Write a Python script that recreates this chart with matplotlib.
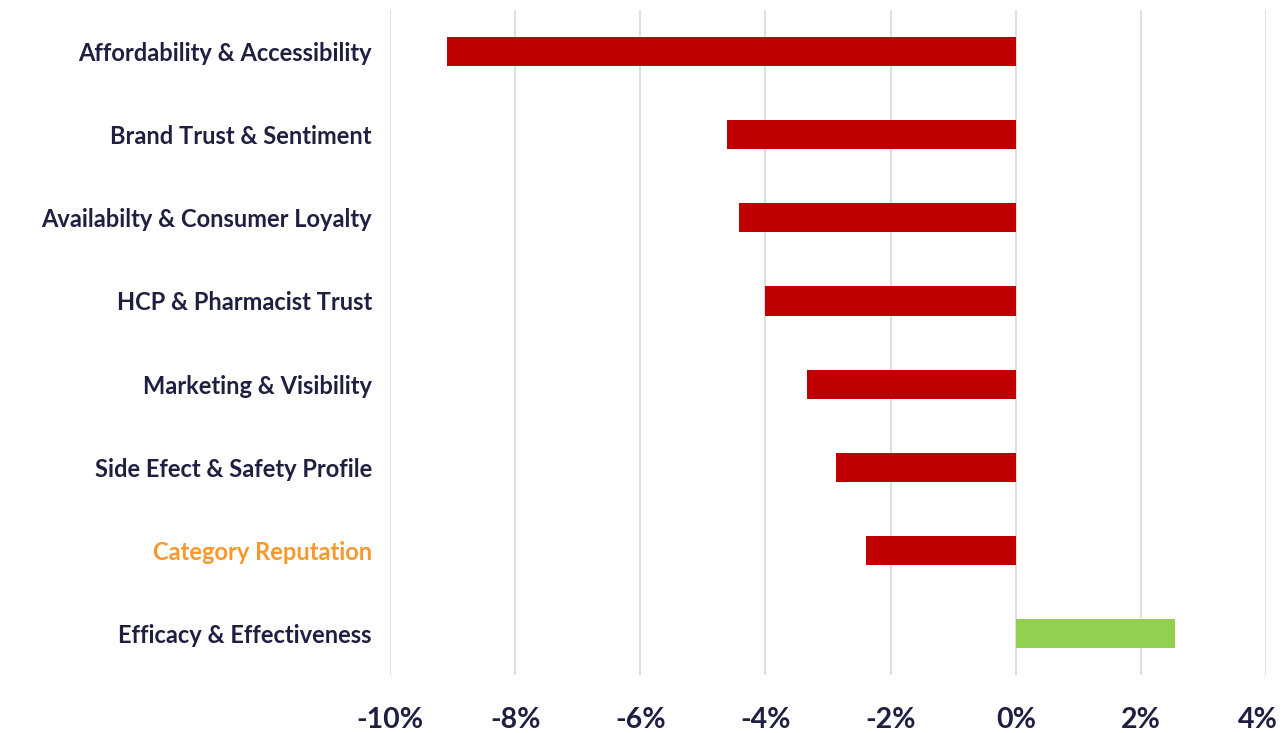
import matplotlib.pyplot as plt
import matplotlib.transforms as mtransforms
from matplotlib.ticker import FuncFormatter

categories = ["Affordability & Accessibility", "Brand Trust & Sentiment",
              "Availabilty & Consumer Loyalty", "HCP & Pharmacist Trust",
              "Marketing & Visibility", "Side Efect & Safety Profile",
              "Category Reputation", "Efficacy & Effectiveness"]
change = [-9.09, -4.62, -4.42, -4.00, -3.33, -2.87, -2.39, 2.55]
xticks = [-10, -8, -6, -4, -2, 0, 2, 4]

red = "#c00000"
green = "#92d050"
navy = "#1f2041"
orange = "#f7982e"

plt.rcParams['font.family'] = ['Lato', 'DejaVu Sans']

fig = plt.figure(figsize=(12.83, 7.33), dpi=100)
ax = fig.add_axes([0.304, 0.079, 0.6828, 0.9074])

ypos = list(range(len(categories)))
colors = [green if v > 0 else red for v in change]
ax.barh(ypos, change, height=0.35, color=colors, zorder=3)

ax.set_xlim(-10, 4)
ax.set_ylim(len(categories) - 0.5, -0.5)
ax.set_xticks(xticks)
ax.xaxis.set_major_formatter(FuncFormatter(lambda v, p: f"{v:.0f}%"))
ax.set_yticks(ypos)
ax.set_yticklabels(categories)

ax.grid(axis='x', color='#d9d9d9', linewidth=1.2, zorder=0)
ax.grid(axis='y', visible=False)
for s in ax.spines.values():
    s.set_visible(False)
ax.tick_params(axis='both', length=0)
ax.tick_params(axis='y', pad=13, labelsize=17, labelcolor=navy)
ax.tick_params(axis='x', pad=23, labelsize=20.5, labelcolor=navy)
for lbl in ax.get_yticklabels() + ax.get_xticklabels():
    lbl.set_fontweight('bold')
ax.get_yticklabels()[6].set_color(orange)

# keep the last x label inside the figure
last = ax.get_xticklabels()[-1]
last.set_transform(last.get_transform() +
                   mtransforms.ScaledTranslation(-8 / 100, 0, fig.dpi_scale_trans))

fig.savefig("out.png", dpi=100)
